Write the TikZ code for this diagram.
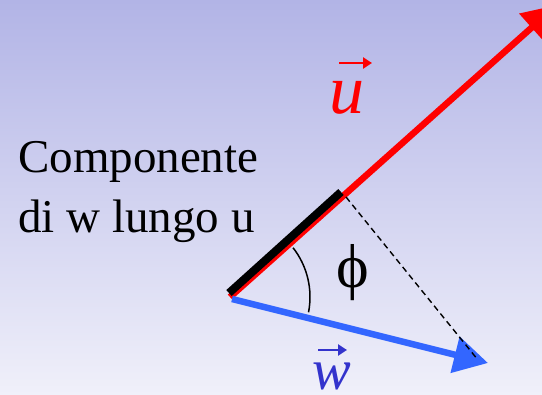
\documentclass[tikz,border=0pt]{standalone}
\usepackage{fontspec}
\setmainfont{Liberation Serif}
\usetikzlibrary{arrows.meta,calc}
\definecolor{ured}{RGB}{255,0,0}
\definecolor{wline}{RGB}{51,102,255}
\definecolor{wtext}{RGB}{51,51,204}
\definecolor{bgtop}{RGB}{178,180,230}
\definecolor{bgbot}{RGB}{240,240,250}
\tikzset{
  vecline/.style={line width=6.5pt,-{Triangle[length=34pt,width=36pt]}},
  veclab/.style={anchor=base west,inner sep=0pt,font=\fontsize{#1}{#1}\selectfont\itshape},
  vechat/.style={line width=2.6pt,-{Triangle[length=9pt,width=11pt]}},
  txt/.style={anchor=base west,inner sep=0pt,font=\fontsize{47}{55}\selectfont}
}
\begin{document}
\begin{tikzpicture}[x=1pt,y=-1pt]
  \useasboundingbox (0,0) rectangle (542,395);
  \clip (0,0) rectangle (542,395);
  \shade[top color=bgtop,bottom color=bgbot] (0,0) rectangle (542,395);
  \coordinate (o) at (230,297);
  \coordinate (ob) at (229,293);
  \coordinate (ow) at (232,299);
  \coordinate (ut) at (557,5);
  \coordinate (wt) at (488,363);
  \coordinate (p) at (346,197);
  \coordinate (pb) at (341,192);
  \coordinate (q) at (478,360);
  \draw[vecline,ured] (o)--(ut);
  \draw[line width=8pt] (ob)--(pb);
  \draw[vecline,wline] (ow)--(wt);
  \draw[dashed,line width=1.4pt,dash pattern=on 6pt off 4pt] (p)--(q);
  \draw[line width=1.5pt] ($(o)+(-38:80)$) arc[start angle=-38,end angle=11,radius=80];
  \node[font=\fontsize{62}{62}\selectfont] (phi) at (353,273) {ϕ};
  \node[txt] (comp) at (18,173) {Componente};
  \node[txt] (lungo) at (18,233) {di w lungo u};
  \node[veclab=70,text=ured] (ulab) at (329,114) {u};
  \draw[vechat,ured] ([shift={(10,-51)}]ulab.base west)--([shift={(43,-51)}]ulab.base west);
  \node[veclab=58,text=wtext] (wlab) at (312,390) {w};
  \draw[vechat,wtext] ([shift={(6,-40)}]wlab.base west)--([shift={(35,-40)}]wlab.base west);
\end{tikzpicture}
\end{document}
